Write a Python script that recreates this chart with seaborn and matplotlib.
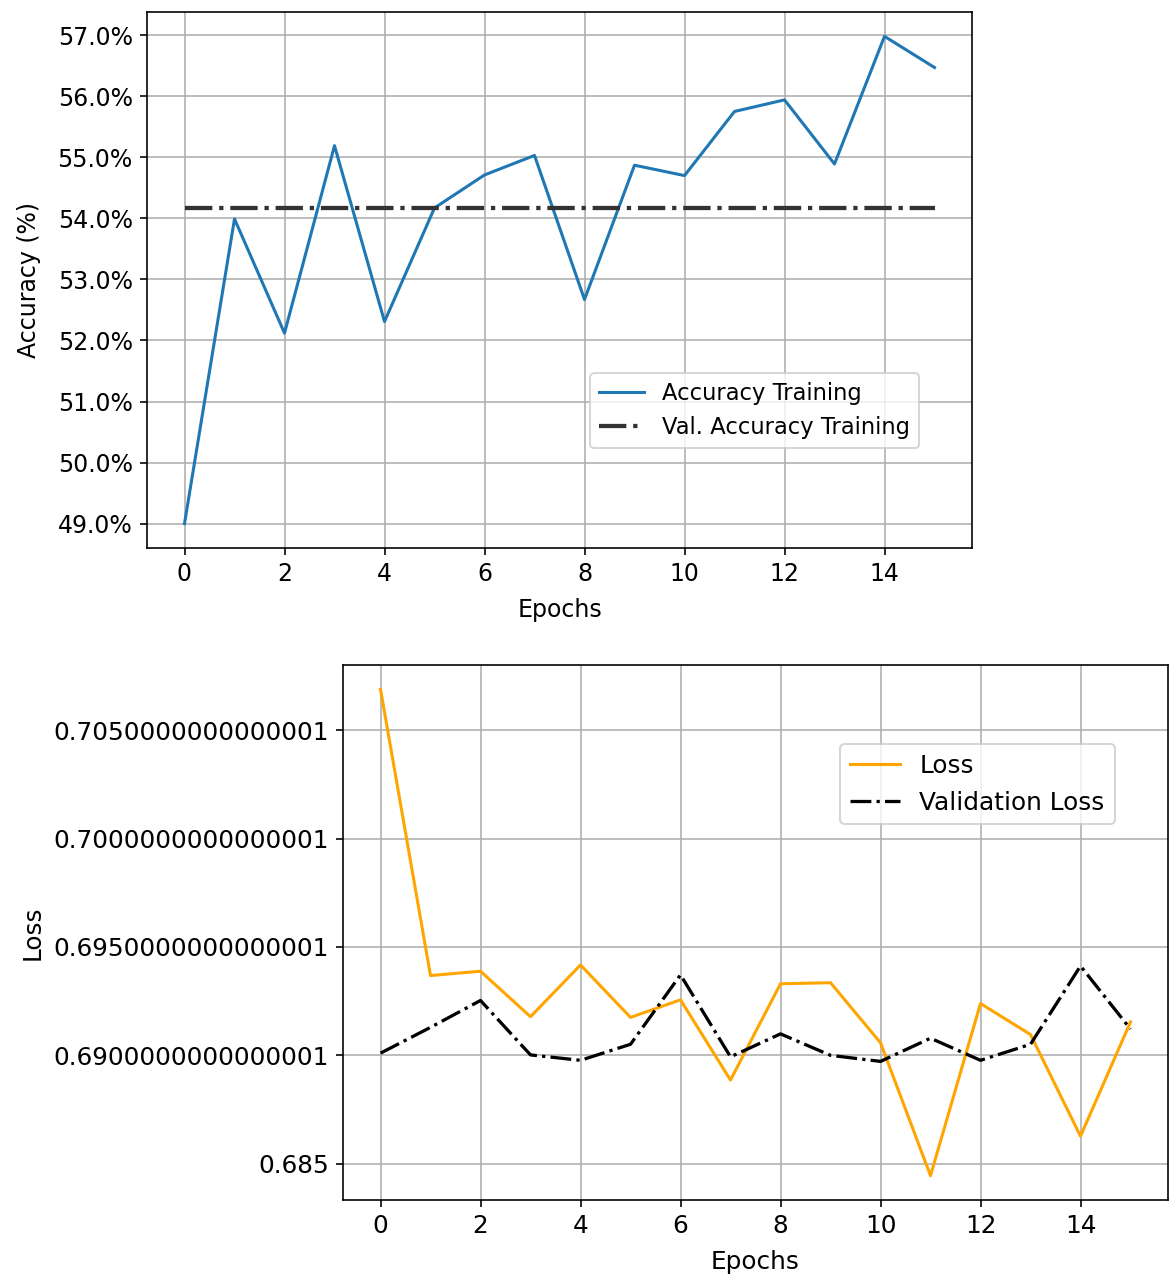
import numpy as np
import matplotlib
matplotlib.use("Agg")
import matplotlib.pyplot as plt
import seaborn as sns
from matplotlib.ticker import PercentFormatter, FixedLocator

epochs = list(range(16))

acc = [49.0, 53.99, 52.12, 55.19, 52.31, 54.17, 54.71, 55.03,
       52.67, 54.87, 54.70, 55.75, 55.94, 54.89, 56.98, 56.47]
val_acc = [54.17, 54.17, 54.17, 54.17, 54.17, 54.17, 54.17, 54.17,
           54.17, 54.17, 54.17, 54.17, 54.17, 54.17, 54.17, 54.17]

loss = [0.70688, 0.69368, 0.69388, 0.69178, 0.69417, 0.69175, 0.69256, 0.68886,
        0.69330, 0.69335, 0.69058, 0.68445, 0.69239, 0.69096, 0.68627, 0.69154]
val_loss = [0.69010, 0.69129, 0.69253, 0.69002, 0.68977, 0.69051, 0.69371, 0.68993,
            0.69099, 0.69000, 0.68972, 0.69079, 0.68977, 0.69051, 0.69412, 0.69121]

loss_ticks = [0.685, 0.690, 0.695, 0.700, 0.705]
loss_tick_labels = ["0.685", "0.6900000000000001", "0.6950000000000001",
                    "0.7000000000000001", "0.7050000000000001"]

plt.rcParams['font.family'] = ['DejaVu Sans']

dpi = 146.5
fig = plt.figure(figsize=(1172 / dpi, 1283 / dpi), dpi=dpi)
W, H = 1172, 1283

# top: accuracy
fs1 = 11.6
ax1 = fig.add_axes([147 / W, 1 - 548 / H, 825 / W, 536 / H])
sns.lineplot(x=epochs, y=acc, ax=ax1, color="tab:blue", label="Accuracy Training")
sns.lineplot(x=epochs, y=val_acc, ax=ax1, color="0.2", linestyle="-.",
             linewidth=2.1, label="Val. Accuracy Training")
ax1.grid(True)
ax1.yaxis.set_major_formatter(PercentFormatter(xmax=100, decimals=1))
ax1.tick_params(labelsize=fs1)
ax1.set_xlabel("Epochs", fontsize=fs1, labelpad=6)
ax1.set_ylabel("Accuracy (%)", fontsize=fs1, labelpad=8)
ax1.legend(loc="upper left", bbox_to_anchor=(0.537, 0.3265), borderaxespad=0,
           fontsize=11.1)

# bottom: loss
fs2 = 12.2
ax2 = fig.add_axes([343 / W, 1 - 1200 / H, 825 / W, 535 / H])
sns.lineplot(x=epochs, y=loss, ax=ax2, color="orange", label="Loss")
sns.lineplot(x=epochs, y=val_loss, ax=ax2, color="k", linestyle="-.",
             linewidth=1.6, label="Validation Loss")
ax2.grid(True)
ax2.yaxis.set_major_locator(FixedLocator(loss_ticks))
ax2.set_yticklabels(loss_tick_labels)
ax2.tick_params(labelsize=fs2)
ax2.set_xlabel("Epochs", fontsize=fs2, labelpad=6)
ax2.set_ylabel("Loss", fontsize=fs2)
ax2.legend(loc="upper left", bbox_to_anchor=(0.6024, 0.852), borderaxespad=0,
           fontsize=fs2)

fig.savefig("out.png", dpi=dpi)
